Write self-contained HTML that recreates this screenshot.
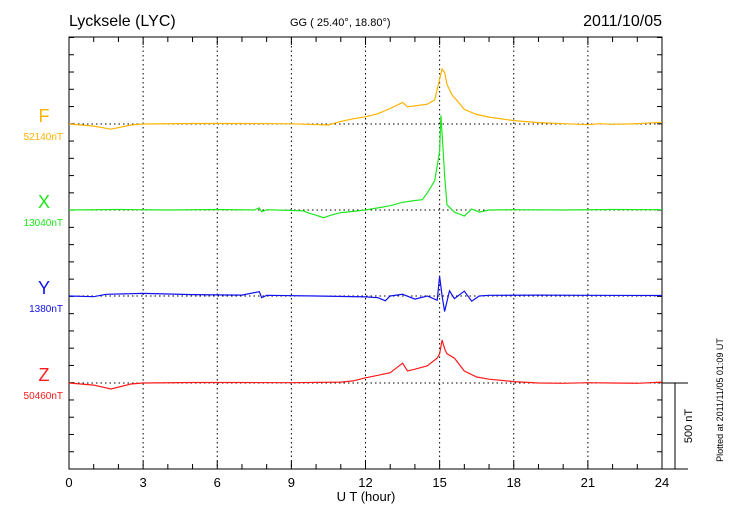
<!DOCTYPE html>
<html><head><meta charset="utf-8"><style>
body{margin:0;background:#fff;}
svg{display:block;font-family:"Liberation Sans",sans-serif;}
</style></head><body>
<svg id="chart" width="730" height="520" viewBox="0 0 730 520">
<text x="69" y="26" font-size="16">Lycksele (LYC)</text>
<text x="290" y="26" font-size="11">GG ( 25.40°,  18.80°)</text>
<text x="662" y="26" font-size="16" text-anchor="end">2011/10/05</text>
<g id="grid"></g>
<rect x="69" y="37" width="593" height="432" fill="none" stroke="#000" stroke-width="1"/>
<g id="series"></g>
<g id="labels"></g>
<text x="366" y="501" font-size="13" text-anchor="middle">U T (hour)</text>
<line x1="662" y1="383" x2="688" y2="383" stroke="#000"/>
<line x1="675" y1="383" x2="675" y2="469" stroke="#000"/>
<line x1="662" y1="469" x2="688" y2="469" stroke="#000"/>
<text transform="translate(692,426) rotate(-90)" font-size="11" text-anchor="middle">500 nT</text>
<text transform="translate(723,400) rotate(-90)" font-size="9" text-anchor="middle">Plotted at 2011/11/05 01:09 UT</text>
</svg>
<script>
const xTicks=[0,3,6,9,12,15,18,21,24];
const seriesNames=["F","X","Y","Z"];
const baseValues=["52140nT","13040nT","1380nT","50460nT"];
const hoursF=[0,0.5,1,1.7,2.5,3,5,7,9,10.5,11,11.5,12,12.5,13,13.5,13.7,14,14.5,14.8,15,15.1,15.2,15.3,15.5,15.8,16,16.5,17,18,19,20,21,21.5,22,23,24];
const valsF=[0,-6,-12,-30,-6,0,3,3,1,-6,15,30,42,60,90,125,100,105,115,140,260,320,300,230,170,120,85,55,40,20,8,2,-4,2,-2,2,10];
const hoursX=[0,2,4,6,7.5,7.7,7.8,8,9.5,9.7,10,10.3,10.6,11,11.5,12,12.5,13,13.5,14,14.3,14.5,14.8,15,15.05,15.15,15.2,15.3,15.6,16,16.3,16.6,17,18,20,22,24];
const valsX=[0,3,0,3,0,12,-10,2,-5,-18,-30,-45,-30,-15,-8,0,12,25,45,55,60,100,170,340,550,330,200,30,-12,-35,5,-12,0,2,0,3,2];
const hoursY=[0,1,1.5,3,5,7,7.7,7.8,8,10,12,12.5,12.8,13,13.5,14,14.5,14.9,15,15.1,15.2,15.4,15.6,16,16.3,16.6,17,19,21,24];
const valsY=[0,-4,10,15,8,5,25,-10,4,0,-5,-10,-28,0,10,-18,0,-25,115,0,-90,30,-15,28,-30,0,4,5,4,3];
const hoursZ=[0,1,1.7,2.5,3,5,7,9,11,11.5,12,12.5,13,13.5,13.7,14,14.5,14.9,15,15.1,15.2,15.3,15.6,16,16.5,17,18,19,20,21,22,23,24];
const valsZ=[0,-12,-35,-6,0,3,3,2,5,12,30,45,60,115,70,80,100,145,170,250,200,170,145,70,35,22,8,0,-2,2,0,-2,5];
const colors=["#ffb300","#1de81d","#1010f0","#ff1a1a"];
const baselines=[124,210,296,383];
const x0=69,x1=662,pxPerNT=86/500;
function xs(h){return x0+(x1-x0)*h/24;}
function ys(i,v){return baselines[i]-v*pxPerNT;}
const NS="http://www.w3.org/2000/svg";
const grid=document.getElementById("grid");
function mk(t,a,p){const e=document.createElementNS(NS,t);for(const k in a)e.setAttribute(k,a[k]);p.appendChild(e);return e;}
xTicks.forEach((h,i)=>{
  if(i>0&&i<xTicks.length-1){const l=mk("line",{x1:xs(h),y1:37,x2:xs(h),y2:469,stroke:"#000","stroke-dasharray":"1.5,3","stroke-width":1},grid);
  
  }
  const t=mk("text",{x:xs(h),y:487,"font-size":13,"text-anchor":"middle"},grid);t.textContent=h;
  
  
});
for(let h=0;h<=24;h++){
  const L=(h%3===0)?8:5;
  mk("line",{x1:xs(h),y1:37,x2:xs(h),y2:37+L,stroke:"#000"},grid);
  mk("line",{x1:xs(h),y1:469,x2:xs(h),y2:469-L,stroke:"#000"},grid);
}
for(let y=469;y>=37;y-=86.3/5){
  mk("line",{x1:69,y1:y,x2:74,y2:y,stroke:"#000"},grid);
  mk("line",{x1:662,y1:y,x2:657,y2:y,stroke:"#000"},grid);
}
baselines.forEach(b=>{const l=mk("line",{x1:69,y1:b,x2:662,y2:b,stroke:"#000","stroke-dasharray":"1.5,3"},grid);
  
  });
const sg=document.getElementById("series");
const H=[hoursF,hoursX,hoursY,hoursZ],V=[valsF,valsX,valsY,valsZ];
for(let i=0;i<4;i++){
  const pts=H[i].map((h,j)=>xs(h).toFixed(1)+","+ys(i,V[i][j]).toFixed(1)).join(" ");
  const p=mk("polyline",{points:pts,fill:"none",stroke:colors[i],"stroke-width":1.2},sg);
  
  
}
const lg=document.getElementById("labels");
for(let i=0;i<4;i++){
  const t=mk("text",{x:44,y:baselines[i]-2,"font-size":18,"text-anchor":"middle",fill:colors[i]},lg);t.textContent=seriesNames[i];
  
  
  const s=mk("text",{x:63,y:baselines[i]+16,"font-size":10,"text-anchor":"end",fill:colors[i]},lg);s.textContent=baseValues[i];
  
  
}
</script>
</body></html>
